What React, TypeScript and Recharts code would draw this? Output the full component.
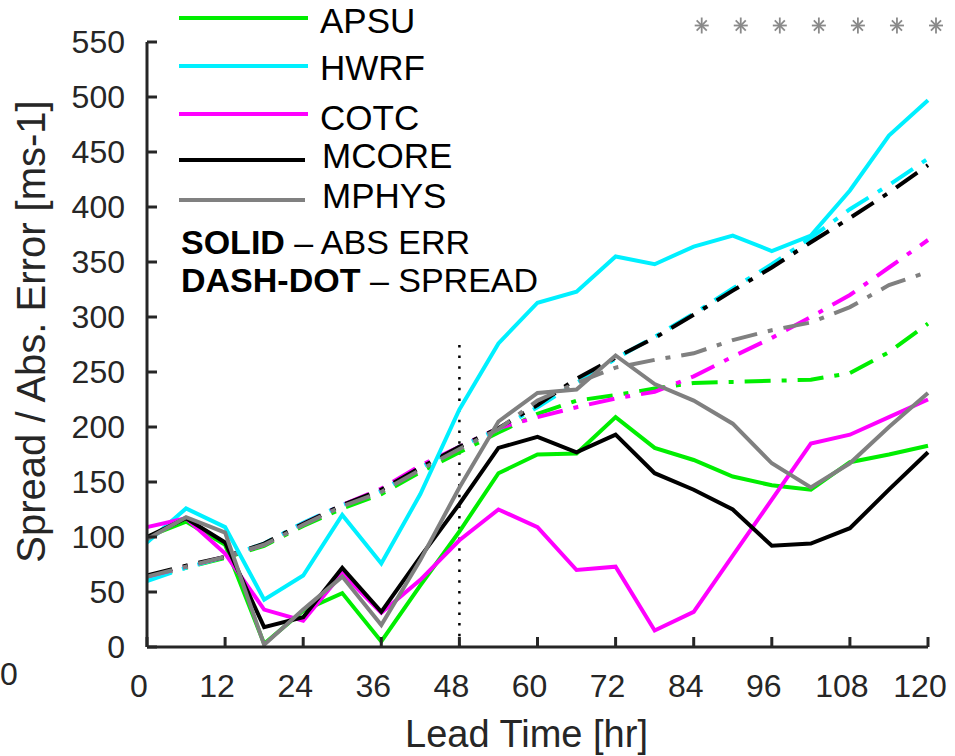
import React from "react";
import {
	LineChart,
	Line,
	XAxis,
	YAxis,
	ReferenceLine,
	ReferenceDot,
	Legend,
	Label,
} from "recharts";

// lead times every 6 h
const leadHours = [0, 6, 12, 18, 24, 30, 36, 42, 48, 54, 60, 66, 72, 78, 84, 90, 96, 102, 108, 114, 120];
const xTicks = [0, 12, 24, 36, 48, 60, 72, 84, 96, 108, 120];
const yTicks = [0, 50, 100, 150, 200, 250, 300, 350, 400, 450, 500, 550];

const models = ["APSU", "HWRF", "COTC", "MCORE", "MPHYS"];
const modelColors = ["#00ee00", "#00f0ff", "#ff00ff", "#000000", "#808080"];

// absolute error (solid)
const apsuErr = [100, 114, 93, 3, 33, 49, 5, 56, 105, 158, 175, 176, 209, 181, 170, 155, 147, 143, 168, 175, 183];
const hwrfErr = [95, 126, 109, 43, 65, 120, 76, 139, 216, 276, 313, 323, 355, 348, 364, 374, 360, 374, 415, 465, 497];
const cotcErr = [109, 117, 85, 34, 24, 67, 31, 61, 97, 125, 109, 70, 73, 15, 32, 83, 134, 185, 193, 209, 225];
const mcoreErr = [100, 117, 95, 18, 27, 72, 32, 82, 130, 181, 191, 177, 193, 158, 143, 125, 92, 94, 108, 143, 177];
const mphysErr = [98, 118, 104, 2, 34, 64, 20, 79, 145, 205, 231, 234, 265, 239, 224, 203, 167, 145, 167, 200, 231];

// ensemble spread (dash-dot)
const apsuSpread = [63, 72, 81, 92, 110, 126, 139, 159, 177, 195, 212, 224, 229, 235, 240, 241, 242, 243, 249, 268, 294];
const hwrfSpread = [60, 72, 82, 94, 113, 129, 142, 163, 182, 198, 218, 240, 262, 282, 303, 326, 348, 372, 398, 420, 444];
const cotcSpread = [64, 73, 82, 93, 112, 129, 144, 165, 182, 199, 209, 218, 226, 232, 246, 264, 281, 300, 320, 345, 370];
const mcoreSpread = [65, 74, 82, 94, 112, 129, 143, 163, 182, 199, 220, 244, 263, 281, 302, 324, 345, 368, 390, 413, 438];
const mphysSpread = [64, 73, 82, 93, 111, 128, 141, 161, 180, 198, 224, 240, 254, 261, 267, 279, 288, 295, 309, 329, 341];

// significance markers along the top
const sigHours = [84, 90, 96, 102, 108, 114, 120];
const sigRow = 565;

const errSeries = [apsuErr, hwrfErr, cotcErr, mcoreErr, mphysErr];
const spreadSeries = [apsuSpread, hwrfSpread, cotcSpread, mcoreSpread, mphysSpread];

const data = leadHours.map((hr, i) => {
	const row: Record<string, number> = { hr };
	models.forEach((m, k) => {
		row[m + "_err"] = errSeries[k][i];
		row[m + "_spr"] = spreadSeries[k][i];
	});
	return row;
});

const FONT = "'Liberation Sans', Arial, Helvetica, sans-serif";
const AXIS = "#262626";
const DASH_DOT = "26 11 5 11";

const XTick = (props: any) => {
	const { x, y, payload } = props;
	return (
		<g>
			<line x1={x} y1={y} x2={x} y2={y - 10} stroke={AXIS} strokeWidth={3} />
			<text x={x - 8} y={y + 50} textAnchor="middle" fontSize={32} fill={AXIS} fontFamily={FONT}>
				{payload.value}
			</text>
		</g>
	);
};

const YTick = (props: any) => {
	const { x, y, payload } = props;
	return (
		<g>
			<line x1={x} y1={y} x2={x + 10} y2={y} stroke={AXIS} strokeWidth={3} />
			<text x={x - 22} y={y + 11} textAnchor="end" fontSize={32} fill={AXIS} fontFamily={FONT}>
				{payload.value}
			</text>
		</g>
	);
};

const Asterisk = ({ cx, cy }: { cx: number; cy: number }) => {
	const r = 7;
	const d = r * 0.72;
	return (
		<g stroke="#8a8a8a" strokeWidth={1.8}>
			<line x1={cx} y1={cy - r - 1} x2={cx} y2={cy + r + 1} />
			<line x1={cx - d} y1={cy - d} x2={cx + d} y2={cy + d} />
			<line x1={cx - d} y1={cy + d} x2={cx + d} y2={cy - d} />
			<line x1={cx - r} y1={cy} x2={cx + r} y2={cy} />
		</g>
	);
};

// legend rows: line y, text baseline
const legendRows = [
	[18, 33],
	[66, 80],
	[114, 130],
	[160, 168],
	[200, 208],
];

const KeyBox = () => (
	<svg width={560} height={300} style={{ display: "block" }}>
		{models.map((m, k) => (
			<g key={m}>
				<line
					x1={179}
					y1={legendRows[k][0]}
					x2={k < 3 ? 308 : 305}
					y2={legendRows[k][0]}
					stroke={modelColors[k]}
					strokeWidth={4}
				/>
				<text x={k < 3 ? 320 : 322} y={legendRows[k][1]} fontSize={35} fontFamily={FONT} fill="#000">
					{m}
				</text>
			</g>
		))}
		<text x={181} y={254} fontSize={34} fontFamily={FONT} fill="#000">
			<tspan fontWeight="bold">SOLID</tspan> – ABS ERR
		</text>
		<text x={181} y={292} fontSize={34} fontFamily={FONT} fill="#000">
			<tspan fontWeight="bold">DASH-DOT</tspan> – SPREAD
		</text>
	</svg>
);

export default function App() {
	return (
		<div style={{ position: "absolute", left: 0, top: 0, width: 955, height: 756, background: "#fff" }}>
			<div
				style={{
					position: "absolute",
					left: 0,
					top: 654,
					fontSize: 32,
					fontFamily: FONT,
					color: AXIS,
					lineHeight: "40px",
				}}
			>
				0
			</div>
			<LineChart width={955} height={756} data={data} margin={{ top: 42, right: 27, bottom: 0, left: 0 }}>
				<XAxis
					dataKey="hr"
					type="number"
					domain={[0, 120]}
					ticks={xTicks}
					height={109}
					tickSize={0}
					tickMargin={0}
					tickLine={false}
					axisLine={{ stroke: AXIS, strokeWidth: 3 }}
					tick={<XTick />}
					interval={0}
				>
					<Label
						content={(p: any) => {
							const vb = p.viewBox;
							return (
								<text
									x={vb.x + vb.width / 2 - 11}
									y={vb.y + 100}
									textAnchor="middle"
									fontSize={38}
									fill={AXIS}
									fontFamily={FONT}
								>
									Lead Time [hr]
								</text>
							);
						}}
					/>
				</XAxis>
				<YAxis
					type="number"
					domain={[0, 550]}
					ticks={yTicks}
					width={147}
					tickSize={0}
					tickMargin={0}
					tickLine={false}
					axisLine={{ stroke: AXIS, strokeWidth: 3 }}
					tick={<YTick />}
					interval={0}
				>
					<Label
						content={(p: any) => {
							const vb = p.viewBox;
							const cy = vb.y + vb.height / 2 - 13;
							return (
								<text
									x={45}
									y={cy}
									transform={`rotate(-90 45 ${cy})`}
									textAnchor="middle"
									fontSize={40}
									fill={AXIS}
									fontFamily={FONT}
								>
									Spread / Abs. Error [ms-1]
								</text>
							);
						}}
					/>
				</YAxis>
				<Legend
					layout="vertical"
					align="center"
					verticalAlign="middle"
					wrapperStyle={{ left: 0, top: 0, width: 560, height: 300 }}
					content={() => <KeyBox />}
				/>
				<ReferenceLine
					segment={[
						{ x: 48, y: 0 },
						{ x: 48, y: 280 },
					]}
					stroke="#000"
					strokeWidth={2.5}
					strokeDasharray="2.5 8.2"
				/>
				{models.map((m, k) => (
					<Line
						key={m + "_spr"}
						dataKey={m + "_spr"}
						stroke={modelColors[k]}
						strokeWidth={4}
						strokeDasharray={DASH_DOT}
						dot={false}
						activeDot={false}
						isAnimationActive={false}
					/>
				))}
				{models.map((m, k) => (
					<Line
						key={m + "_err"}
						dataKey={m + "_err"}
						stroke={modelColors[k]}
						strokeWidth={4}
						dot={false}
						activeDot={false}
						isAnimationActive={false}
					/>
				))}
				{sigHours.map((h) => (
					<ReferenceDot
						key={h}
						x={h}
						y={sigRow}
						r={0}
						ifOverflow="visible"
						shape={(p: any) => <Asterisk cx={p.cx + 8} cy={p.cy} />}
					/>
				))}
			</LineChart>
		</div>
	);
}
